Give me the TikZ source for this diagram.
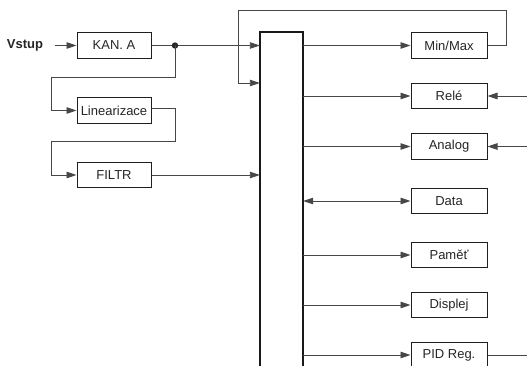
\documentclass[tikz,border=0pt]{standalone}
\usepackage{fontspec}
\setmainfont{Liberation Sans}
\usetikzlibrary{arrows.meta}
\begin{document}
\begin{tikzpicture}[x=1pt,y=-1pt,
  font=\fontsize{13}{15}\selectfont,
  blk/.style={draw=black!88, line width=1pt, fill=white, minimum width=74pt, minimum height=25.5pt, inner sep=0pt, text=black!85},
  rblk/.style={blk, minimum width=76pt},
  conn/.style={draw=black!72, line width=0.9pt},
  arr/.style={conn, -{Triangle[length=10pt,width=6.5pt]}},
  arrb/.style={conn, {Triangle[length=10pt,width=6.5pt]}-{Triangle[length=10pt,width=6.5pt]}}
]
\useasboundingbox (0,0) rectangle (527,366);
% left chain
\node[font=\fontsize{13}{15}\selectfont\bfseries, text=black!85] (vstup) at (25,45.5) {Vstup};
\node[blk] (kan) at (114,45.5) {KAN. A};
\node[blk] (lin) at (114,110.5) {Linearizace};
\node[blk] (fil) at (114,175) {FILTR};
% bus
\node[minimum width=43pt, minimum height=340pt, inner sep=0pt] (bus) at (281.5,202) {};
\draw[black!90, line width=2pt] (bus.south west) -- (bus.north west) -- (bus.north east) -- (bus.south east);
% right blocks
\node[rblk] (minmax) at (449,45.5) {Min/Max};
\node[rblk] (rele) at (449,96) {Relé};
\node[rblk] (analog) at (449,146.5) {Analog};
\node[rblk] (data) at (449,201) {Data};
\node[rblk] (pamet) at (449,255) {Paměť};
\node[rblk] (displej) at (449,305) {Displej};
\node[rblk] (pid) at (449,355) {PID Reg.};
% helper coordinates
\coordinate (dot) at (175,45.5);
\coordinate (fb) at (238,83);
\coordinate (rin1) at (527,96);
\coordinate (rin2) at (527,146.5);
\coordinate (pout) at (527,355);
% connectors
\draw[arr] ([xshift=8pt]vstup.east) -- (kan.west);
\draw[arr] (kan.east) -- (kan.east -| bus.west);
\fill[black!85] (dot) circle (3.2pt);
\draw[arr] (dot) -- (175,77) -- (51,77) |- (lin.west);
\draw[arr] ([yshift=2.5pt]lin.east) -- (175,108) -- (175,141) -- (51,141) |- (fil.west);
\draw[arr] (fil.east) -- (fil.east -| bus.west);
\draw[arr] (minmax.east) -- (506,45.5) -- (506,10) -- (238,10) -- (fb) -- (fb -| bus.west);
\draw[arr] (bus.east |- minmax) -- (minmax.west);
\draw[arr] (bus.east |- rele) -- (rele.west);
\draw[arr] (bus.east |- analog) -- (analog.west);
\draw[arrb] (bus.east |- data) -- (data.west);
\draw[arr] (bus.east |- pamet) -- (pamet.west);
\draw[arr] (bus.east |- displej) -- (displej.west);
\draw[arr] (bus.east |- pid) -- (pid.west);
\draw[arr] (rin1) -- (rele.east);
\draw[arr] (rin2) -- (analog.east);
\draw[conn] (pid.east) -- (pout);
\end{tikzpicture}
\end{document}
